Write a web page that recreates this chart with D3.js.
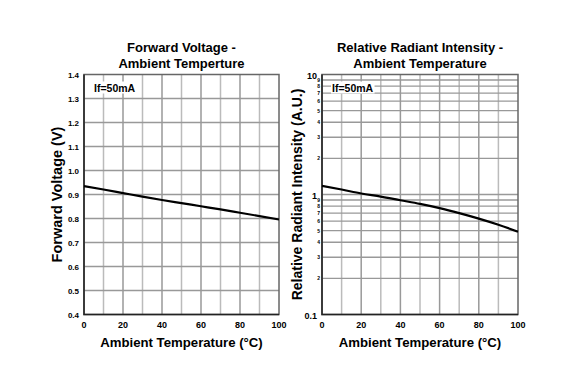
<!DOCTYPE html>
<html>
<head>
<meta charset="utf-8">
<script src="https://cdn.jsdelivr.net/npm/d3@7"></script>
<style>
  body { margin: 0; background: #fff; }
  text { font-family: "Liberation Sans", Arial, sans-serif; font-weight: bold; fill: #000; }
</style>
</head>
<body>
<div id="chart"></div>
<script>
// data
var temps = [0, 10, 20, 30, 40, 50, 60, 70, 80, 90, 100];
var forwardVoltage = [0.935, 0.921, 0.906, 0.891, 0.877, 0.864, 0.851, 0.838, 0.824, 0.810, 0.796];
var radiantIntensity = [1.18, 1.10, 1.02, 0.96, 0.895, 0.835, 0.77, 0.70, 0.63, 0.56, 0.49];
var xTicks = [0, 20, 40, 60, 80, 100];
var vTicks = [0.4, 0.5, 0.6, 0.7, 0.8, 0.9, 1.0, 1.1, 1.2, 1.3, 1.4];
var logMajor = [0.1, 1, 10];
var logMinor = [2, 3, 4, 5, 6, 7, 8, 9];

var W = 583, H = 368;
var svg = d3.select("#chart").append("svg").attr("width", W).attr("height", H);

var plotTop = 74.5, plotBottom = 314.5;

function drawPanel(opt) {
  var x = d3.scaleLinear().domain([0, 100]).range([opt.left, opt.right]);
  var y = opt.y;
  var g = svg.append("g");

  // vertical grid
  d3.range(10, 100, 10).forEach(function(t) {
    g.append("line").attr("x1", x(t)).attr("x2", x(t))
      .attr("y1", plotTop).attr("y2", plotBottom)
      .attr("stroke", t % 20 === 0 ? "#999" : "#bbb").attr("stroke-width", 1.5);
  });
  // horizontal grid
  opt.hGrid.forEach(function(v) {
    g.append("line").attr("x1", opt.left).attr("x2", opt.right)
      .attr("y1", y(v)).attr("y2", y(v))
      .attr("stroke", "#999").attr("stroke-width", 1.3);
  });

  // frame
  g.append("rect").attr("x", opt.left).attr("y", plotTop)
    .attr("width", opt.right - opt.left).attr("height", plotBottom - plotTop)
    .attr("fill", "none").attr("stroke", "#666").attr("stroke-width", 1.5);
  g.append("path")
    .attr("d", "M" + opt.left + "," + plotTop + "V" + plotBottom + "H" + opt.right)
    .attr("fill", "none").attr("stroke", "#222").attr("stroke-width", 1.5);

  // x tick labels
  xTicks.forEach(function(t) {
    g.append("text").attr("x", x(t)).attr("y", 328)
      .attr("text-anchor", "middle").attr("font-size", 9).text(t);
  });

  // curve
  var line = d3.line().curve(d3.curveMonotoneX)
    .x(function(d, i) { return x(temps[i]); })
    .y(function(d) { return y(d); });
  g.append("path").datum(opt.values).attr("d", line)
    .attr("fill", "none").attr("stroke", "#000").attr("stroke-width", 2.2);

  // If label with white box
  var lbl = g.append("text").attr("x", opt.left + 10).attr("y", plotTop + 17)
    .attr("font-size", 10.5).text("If=50mA");
  var bb = lbl.node().getBBox();
  g.insert("rect", function() { return lbl.node(); })
    .attr("x", bb.x - 1).attr("y", bb.y).attr("width", bb.width + 2).attr("height", bb.height)
    .attr("fill", "#fff");

  // titles
  var cx = (opt.left + opt.right) / 2;
  opt.title.forEach(function(s, i) {
    g.append("text").attr("x", cx).attr("y", 52 + i * 15.5)
      .attr("text-anchor", "middle").attr("font-size", 13).text(s);
  });
  g.append("text").attr("x", cx).attr("y", 347)
    .attr("text-anchor", "middle").attr("font-size", 13.2).text("Ambient Temperature (°C)");
  g.append("text")
    .attr("transform", "translate(" + opt.yLabelX + "," + ((plotTop + plotBottom) / 2) + ") rotate(-90)")
    .attr("text-anchor", "middle").attr("font-size", opt.yLabelSize).text(opt.yLabel);
  return g;
}

// left panel
var yV = d3.scaleLinear().domain([0.4, 1.4]).range([plotBottom, plotTop]);
var gL = drawPanel({
  left: 84, right: 279, y: yV, values: forwardVoltage,
  hGrid: vTicks.slice(1, -1),
  title: ["Forward Voltage -", "Ambient Temperture"],
  yLabel: "Forward Voltage (V)", yLabelX: 62, yLabelSize: 14.5
});
vTicks.forEach(function(v) {
  gL.append("text").attr("x", 79).attr("y", yV(v) + 3)
    .attr("text-anchor", "end").attr("font-size", 8).text(d3.format(".1f")(v));
});

// right panel
var yI = d3.scaleLog().domain([0.1, 10]).range([plotBottom, plotTop]);
var minorVals = [];
[0.1, 1].forEach(function(dec) {
  logMinor.forEach(function(m) { minorVals.push(+(m * dec).toFixed(2)); });
});
var gR = drawPanel({
  left: 322, right: 518, y: yI, values: radiantIntensity,
  hGrid: minorVals.concat([1]),
  title: ["Relative Radiant Intensity -", "Ambient Temperature"],
  yLabel: "Relative Radiant Intensity (A.U.)", yLabelX: 302, yLabelSize: 14
});
logMajor.forEach(function(v) {
  gR.append("text").attr("x", 317).attr("y", yI(v) + 4)
    .attr("text-anchor", "end").attr("font-size", 9).text(v);
});
[0.1, 1].forEach(function(dec) {
  logMinor.forEach(function(m) {
    gR.append("text").attr("x", 320).attr("y", yI(m * dec) + 2)
      .attr("text-anchor", "end").attr("font-size", 5).text(m);
  });
});
</script>
</body>
</html>
